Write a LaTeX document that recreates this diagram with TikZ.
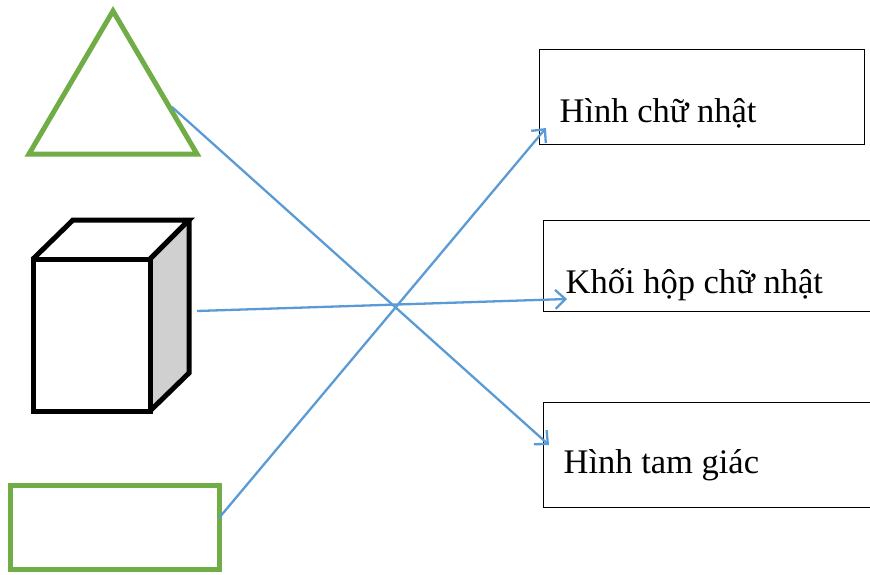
\documentclass[tikz,border=0pt]{standalone}
\usepackage{fontspec}
\setmainfont{Liberation Serif}
\usetikzlibrary{arrows.meta}
\definecolor{shapegreen}{RGB}{112,173,71}
\definecolor{linkblue}{RGB}{91,155,213}
\definecolor{sidegray}{RGB}{208,208,208}
\newcommand{\boxtext}[2]{\makebox[#1][l]{#2}}

\begin{document}
\begin{tikzpicture}[x=1pt, y=-1pt, >={Straight Barb[length=10pt,width=19pt]},
    greenshape/.style={draw=shapegreen, line width=5pt},
    solidline/.style={draw=black, line width=5pt},
    namebox/.style={draw, line width=1.3pt, anchor=north west, inner ysep=0pt,
        inner xsep=20pt, font=\fontsize{34.5}{40}\selectfont},
    link/.style={linkblue, line width=2.3pt, ->}]
    \useasboundingbox (0,0) rectangle (870,574);

    % Triangle
    \draw[greenshape] (113,11) -- (197,154) -- (29,154) -- cycle;
    \coordinate (triside) at (172,107);

    % Box
    \fill[sidegray] (150,259) -- (189,220) -- (189,373) -- (150,411) -- cycle;
    \draw[solidline] (33,259) rectangle (150,411);
    \draw[solidline] (33,259) -- (73,220) -- (189,220) -- (150,259);
    \draw[solidline] (189,220) -- (189,373) -- (150,411);
    \coordinate (boxside) at (197,311);

    % Green rectangle
    \draw[greenshape] (10,485) rectangle (219,569);
    \coordinate (rectside) at (219,518);

    % Names
    \node[namebox, text height=73pt, text depth=22pt] (rectname) at (539,49) {\boxtext{285pt}{Hình chữ nhật}};
    \node[namebox, inner xsep=22pt, text height=73pt, text depth=18pt] (boxname) at (543,220) {\boxtext{300pt}{Khối hộp chữ nhật}};
    \node[namebox, text height=71pt, text depth=34pt] (triname) at (543,402) {\boxtext{300pt}{Hình tam giác}};

    % Arrow ends
    \coordinate (rectend) at (546,128);
    \coordinate (boxend) at (567,299);
    \coordinate (triend) at (549,445);

    % Links
    \draw[link] (triside) -- (triend);
    \draw[link] (boxside) -- (boxend);
    \draw[link] (rectside) -- (rectend);
\end{tikzpicture}
\end{document}
